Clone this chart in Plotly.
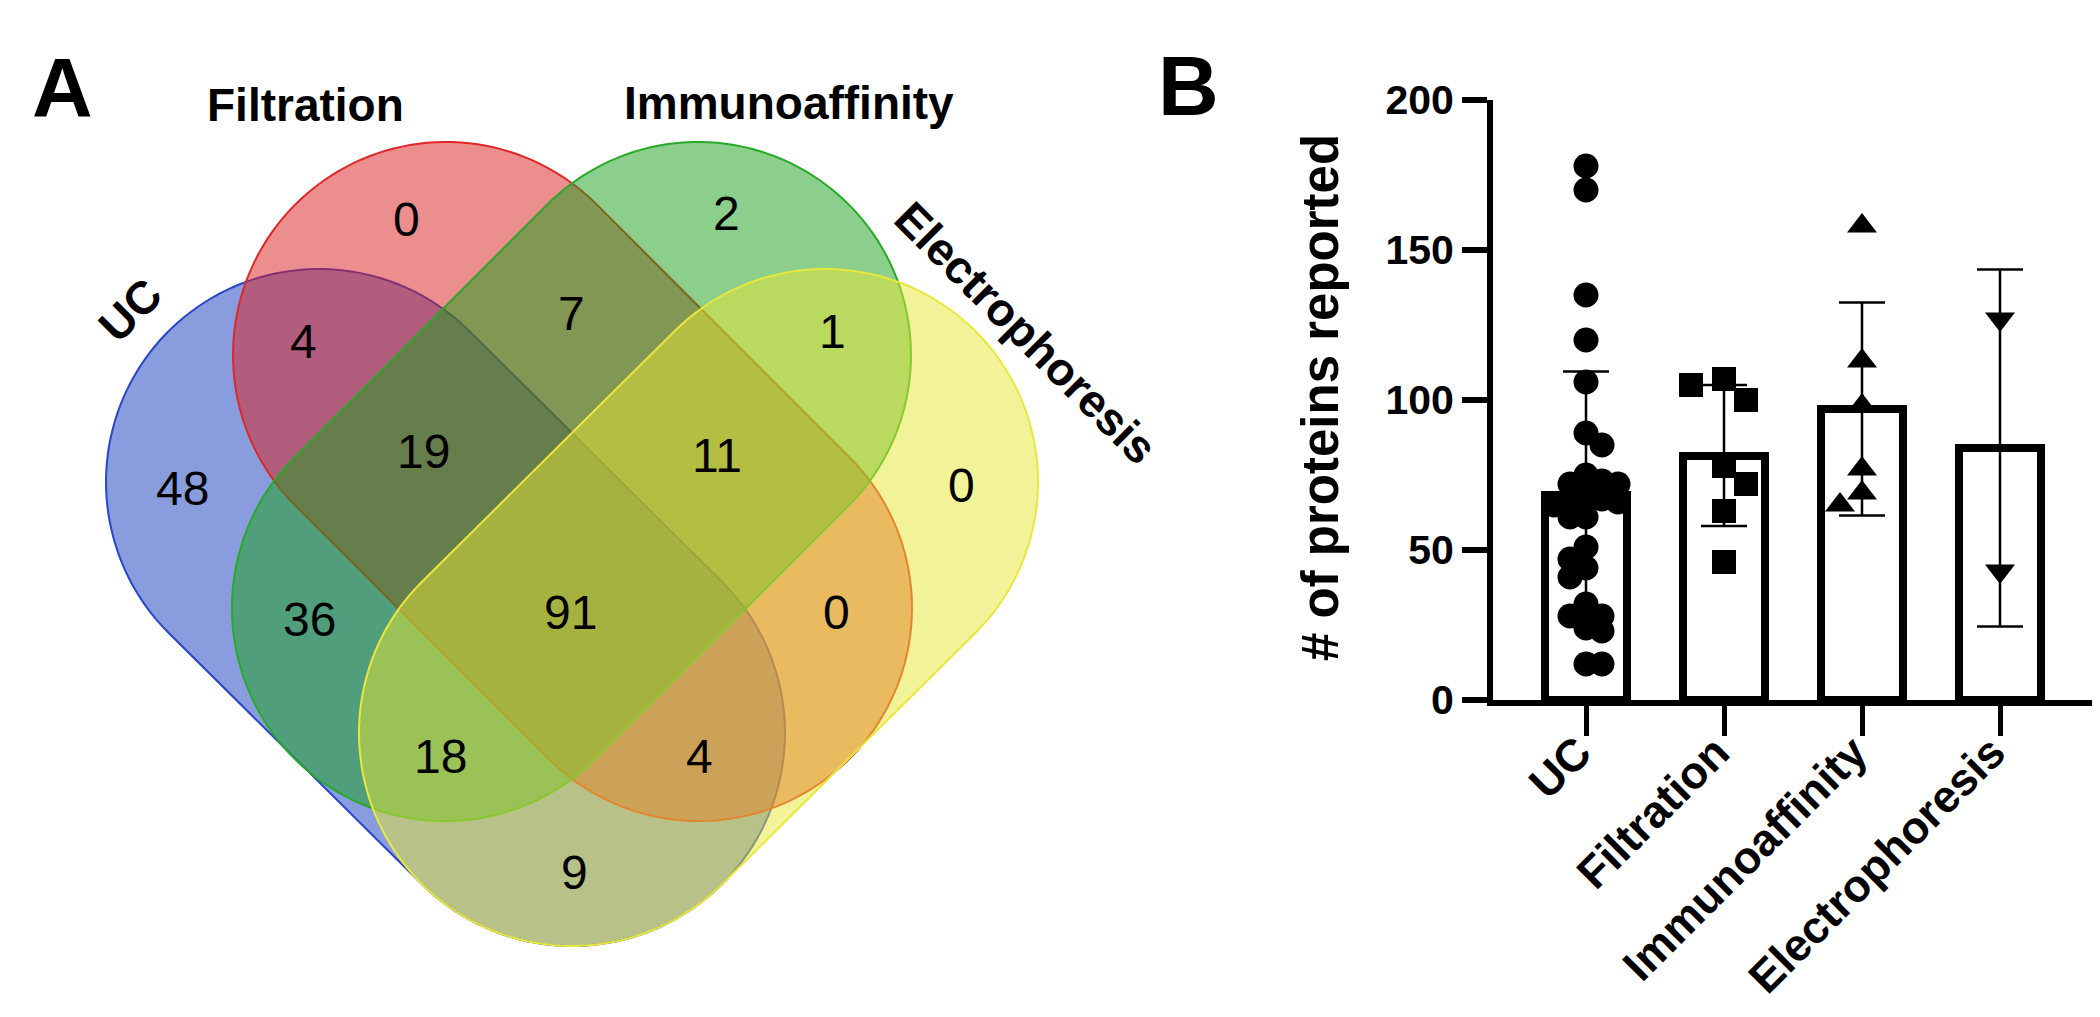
import numpy as np
import plotly.graph_objects as go

# ---------------- data ----------------
categories = ["UC", "Filtration", "Immunoaffinity", "Electrophoresis"]

uc_values = [178, 170, 135, 120, 106, 89, 85, 75, 73, 72, 72, 68, 67, 66, 66, 65,
             61, 61, 51, 47, 44, 41, 32, 28, 28, 24, 23, 12, 12]
filtration_values = [107, 105, 100, 78, 72, 63, 46]
immunoaffinity_values = [158, 113, 98, 77, 69, 65]
electrophoresis_values = [127, 43]

bar_means = [68.5, 81.5, 97.0, 84.0]
bar_sd = [41.0, 23.5, 35.5, 59.5]

venn_set_names = ["UC", "Filtration", "Immunoaffinity", "Electrophoresis"]
venn_regions = ["F", "I", "FI", "UF", "IE", "UFI", "FIE", "U", "E", "UI", "UFIE", "FE", "UIE", "UFE", "UE"]
venn_counts = [0, 2, 7, 4, 1, 19, 11, 48, 0, 36, 91, 0, 18, 4, 9]

# ---------------- layout helpers (pixel space of the 2100x1017 page) ----------------
W, H = 2100, 1017
FONT = "Liberation Sans, Arial, sans-serif"


def px(x):
    return x / W


def py(y):
    return 1 - y / H


def capsule_path(p1, p2, r, n=80):
    p1 = np.asarray(p1, float)
    p2 = np.asarray(p2, float)
    d = p2 - p1
    u = d / np.hypot(*d)
    nrm = np.array([-u[1], u[0]])
    a0 = np.arctan2(nrm[1], nrm[0])
    t2 = np.linspace(a0, a0 - np.pi, n)
    t1 = np.linspace(a0 - np.pi, a0 - 2 * np.pi, n)
    pts = [p2 + r * np.array([np.cos(t), np.sin(t)]) for t in t2]
    pts += [p1 + r * np.array([np.cos(t), np.sin(t)]) for t in t1]
    s = "M {:.5f},{:.5f} ".format(px(pts[0][0]), py(pts[0][1]))
    s += " ".join("L {:.5f},{:.5f}".format(px(p[0]), py(p[1])) for p in pts[1:])
    return s + " Z"


# Venn geometry (pixels)
X0 = 564
R = 213
venn_shapes = [
    # name, p1, p2, fill, line
    ("UC", (X0 - 253, 474), (X0, 725), "rgba(20,60,190,0.5)", "rgb(40,70,200)"),
    ("Filtration", (X0 - 126, 347), (X0 + 127, 600), "rgba(220,30,30,0.5)", "rgb(222,40,40)"),
    ("Immunoaffinity", (X0 + 126, 347), (X0 - 127, 600), "rgba(25,160,25,0.5)", "rgb(40,170,40)"),
    ("Electrophoresis", (X0 + 253, 474), (X0, 725), "rgba(230,230,50,0.5)", "rgb(232,232,60)"),
]

region_pos = {
    "F": (398, 212), "I": (718, 205), "FI": (563, 305), "UF": (295, 333),
    "IE": (824, 323), "UFI": (415, 444), "FIE": (709, 447), "U": (174, 480),
    "E": (953, 477), "UI": (301, 611), "UFIE": (562, 604), "FE": (828, 604),
    "UIE": (432, 748), "UFE": (692, 748), "UE": (566, 864),
}

set_label_pos = {
    "UC": (122, 302, -45),
    "Filtration": (297, 97, 0),
    "Immunoaffinity": (781, 95, 0),
    "Electrophoresis": (1018, 325, 45),
}

shapes = []
for name, p1, p2, fill, line in venn_shapes:
    shapes.append(dict(type="path", xref="paper", yref="paper",
                       path=capsule_path(p1, p2, R), fillcolor=fill,
                       line=dict(color=line, width=2), layer="above"))

annotations = []
for reg, cnt in zip(venn_regions, venn_counts):
    x, y = region_pos[reg]
    annotations.append(dict(x=px(x), y=py(y), xref="paper", yref="paper", text=str(cnt),
                            showarrow=False, xanchor="center", yanchor="middle",
                            font=dict(family=FONT, size=48, color="black")))
for nm in venn_set_names:
    x, y, ang = set_label_pos[nm]
    annotations.append(dict(x=px(x), y=py(y), xref="paper", yref="paper", text=nm,
                            showarrow=False, xanchor="center", yanchor="middle", textangle=ang,
                            font=dict(family=FONT, size=46, color="black", weight="bold")))

annotations.append(dict(x=px(54), y=py(80), xref="paper", yref="paper", text="A", showarrow=False,
                        xanchor="center", yanchor="middle",
                        font=dict(family=FONT, size=84, color="black", weight="bold")))
annotations.append(dict(x=px(1180), y=py(78), xref="paper", yref="paper", text="B", showarrow=False,
                        xanchor="center", yanchor="middle",
                        font=dict(family=FONT, size=84, color="black", weight="bold")))
annotations.append(dict(x=px(1312), y=py(390), xref="paper", yref="paper",
                        text="# of proteins reported", showarrow=False, textangle=-90,
                        xanchor="center", yanchor="middle",
                        font=dict(family=FONT, size=51, color="black", weight="bold")))

# ---------------- panel B ----------------
AX_L, AX_R, AX_T, AX_B = 1485, 2087, 92, 692
PX_PER_UNIT = (AX_B - AX_T) / 200.0
CAT0 = 1578
PX_PER_CAT = 138.0
XR = [(AX_L - CAT0) / PX_PER_CAT, (AX_R - CAT0) / PX_PER_CAT]


def beeswarm(values, center, diam=21.0, step=10.0):
    vals = np.asarray(values, float)
    order = np.argsort(-vals, kind="stable")
    placed = []
    offs = np.zeros(len(vals))
    for i in order:
        y = vals[i] * PX_PER_UNIT
        k = 0
        found = None
        while found is None:
            cands = [0.0] if k == 0 else [k * step, -k * step]
            if k and len(placed) % 2:
                cands = cands[::-1]
            for c in cands:
                if all((c - a) ** 2 + (y - b) ** 2 >= diam ** 2 for a, b in placed):
                    found = c
                    break
            k += 1
        placed.append((found, y))
        offs[i] = found
    return center + offs / PX_PER_CAT


fig = go.Figure()
fig.add_trace(go.Bar(
    x=list(range(len(categories))), y=bar_means, width=0.594,
    marker=dict(color="white", line=dict(color="black", width=8)),
    error_y=dict(type="data", array=bar_sd, symmetric=True, color="black",
                 thickness=2.5, width=23),
    showlegend=False,
))

groups = [uc_values, filtration_values, immunoaffinity_values, electrophoresis_values]
symbols = ["circle", "square", "triangle-up", "triangle-down"]
sizes = [25, 24, 26, 26]
swarm = [(15.0, 8.0), (24.0, 11.0), (24.0, 11.0), (24.0, 11.0)]
for i, (vals, sym, sz) in enumerate(zip(groups, symbols, sizes)):
    d, st = swarm[i]
    fig.add_trace(go.Scatter(
        x=beeswarm(vals, i, diam=d, step=st), y=vals, mode="markers",
        marker=dict(symbol=sym, size=sz, color="black", line=dict(width=0)),
        showlegend=False, cliponaxis=False,
    ))

fig.update_layout(
    width=W, height=H, margin=dict(l=0, r=0, t=0, b=0),
    paper_bgcolor="white", plot_bgcolor="rgba(0,0,0,0)",
    shapes=shapes, annotations=annotations, showlegend=False,
    bargap=0,
    xaxis=dict(domain=[AX_L / W, AX_R / W], range=XR, tickvals=list(range(len(categories))),
               ticktext=categories, tickangle=-45, ticks="outside", ticklen=30, tickwidth=5,
               tickcolor="black", showline=True, linewidth=6, linecolor="black",
               showgrid=False, zeroline=False, automargin=False,
               ticklabelstandoff=-28, ticklabelshift=-8,
               tickfont=dict(family=FONT, size=45, color="black", weight="bold")),
    yaxis=dict(domain=[1 - AX_B / H, 1 - AX_T / H], range=[0, 200],
               tickvals=[0, 50, 100, 150, 200], ticks="outside", ticklen=25, tickwidth=6,
               tickcolor="black", showline=True, linewidth=6, linecolor="black",
               showgrid=False, zeroline=False, automargin=False,
               tickfont=dict(family=FONT, size=41, color="black", weight="bold")),
)

fig.write_html("out.html")
